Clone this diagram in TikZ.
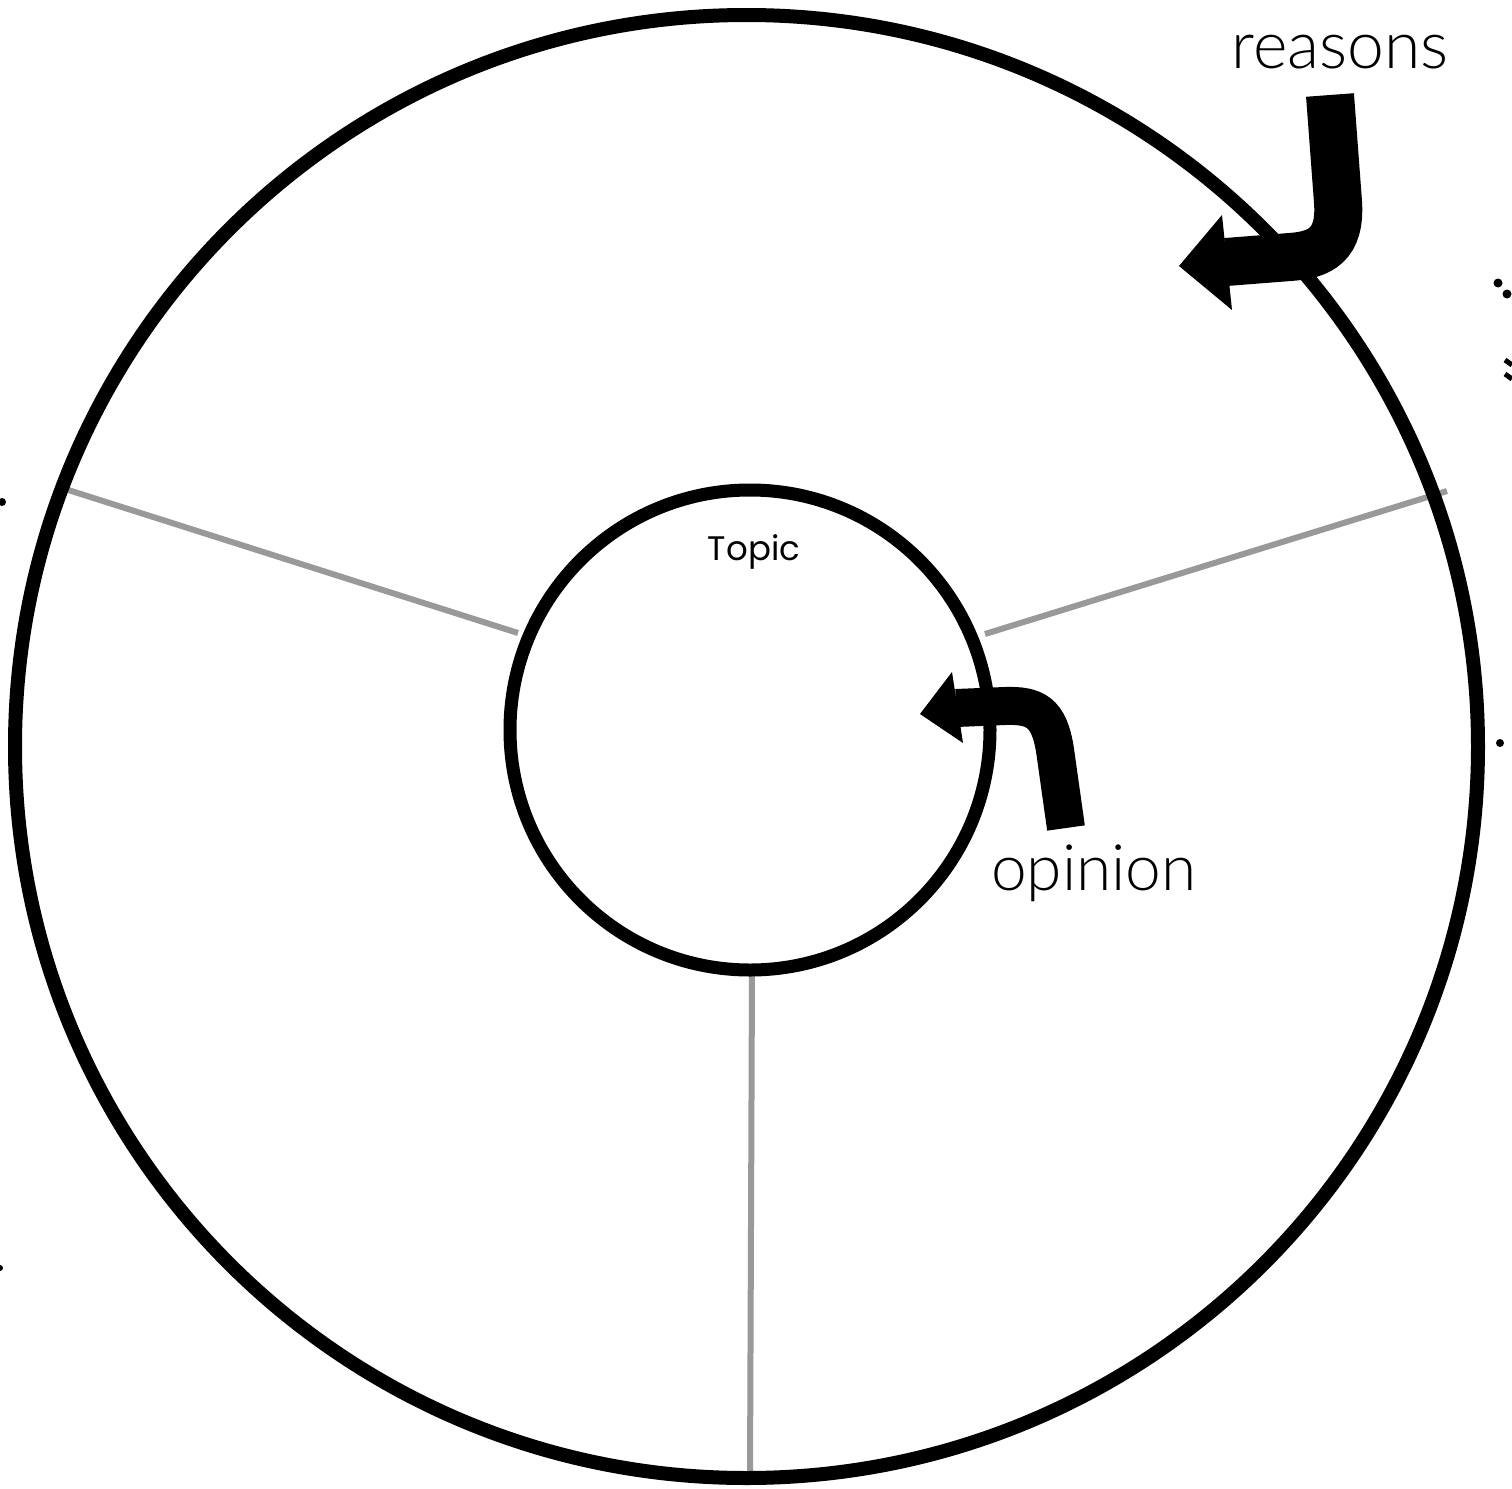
\documentclass[tikz,border=0pt]{standalone}
\usepackage{fontspec}
\newfontfamily\handfont{Lato Light}
\newfontfamily\topicfont{Poppins}
\begin{document}
\begin{tikzpicture}[x=0.5pt,y=-0.5pt,
  ring/.style={draw=black,line width=7pt},
  core/.style={draw=black,line width=6.5pt},
  divider/.style={draw=black!40,line width=3pt},
  bigarrow/.style={draw=black,line width=24pt},
  smallarrow/.style={draw=black,line width=19pt},
  speck/.style={fill=black}]
\useasboundingbox (0,0) rectangle (1512,1489);
\coordinate (oc) at (746.5,746.5);
\coordinate (ic) at (750,730);
% dividers
\coordinate (d1o) at (62,488);   \coordinate (d1i) at (518,633);
\coordinate (d2o) at (1447,491); \coordinate (d2i) at (985,634);
\coordinate (d3o) at (750,1478); \coordinate (d3i) at (752,972);
\draw[divider] (d1o) -- (d1i);
\draw[divider] (d2o) -- (d2i);
\draw[divider] (d3i) -- (d3o);
% circles
\draw[ring] (oc) circle[radius=731.5];
\draw[core] (ic) circle[radius=240];
% texts
\node[font=\topicfont\fontsize{17}{20}\selectfont] (topic) at (754,552) {Topic};
\node[font=\handfont\fontsize{33}{40}\selectfont,anchor=base] (reasons) at (1340,68) {reasons};
\node[font=\handfont\fontsize{32}{38}\selectfont,anchor=base] (opinion) at (1094,890) {opinion};
% reasons arrow
\coordinate (ra0) at (1330,95);
\coordinate (ra1) at (1338,202);
\coordinate (ra2) at (1290,257);
\coordinate (ra3) at (1226,262);
\draw[bigarrow] (ra0) -- (ra1) .. controls (1341,245) and (1320,255) .. (ra2) -- (ra3);
\fill (1179,266) -- (1222,215) -- (1232,310) -- cycle;
% opinion arrow
\coordinate (oa0) at (1066,828);
\coordinate (oa1) at (1055,750);
\coordinate (oa2) at (1005,706);
\coordinate (oa3) at (956,708);
\draw[smallarrow] (oa0) -- (oa1) .. controls (1049,712) and (1035,705) .. (oa2) -- (oa3);
\fill (920,714) -- (952,672) -- (963,743) -- cycle;
% edge specks
\fill[speck] (1498,283) circle[radius=4.5];
\fill[speck] (1507,294) circle[radius=4.5];
\draw[line width=2.5pt] (1505,360) -- (1512,365);
\draw[line width=2.5pt] (1505,374) -- (1512,379);
\fill[speck] (1500,743) circle[radius=4];
\fill[speck] (2,502) circle[radius=4];
\fill[speck] (0,1268) circle[radius=3];
\end{tikzpicture}
\end{document}
